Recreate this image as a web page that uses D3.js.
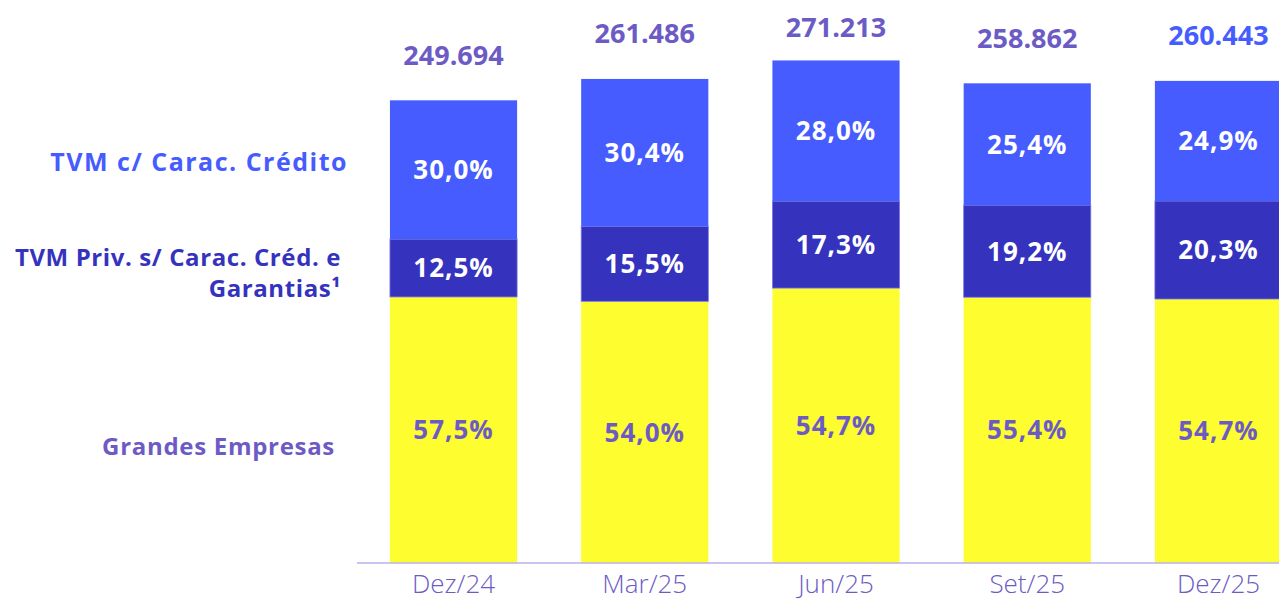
<!DOCTYPE html>
<html>
<head>
<meta charset="utf-8">
<script src="https://cdn.jsdelivr.net/npm/d3@7"></script>
<style>
  body { margin: 0; background: #fff; overflow: hidden; }
  text { font-family: "Open Sans", sans-serif; }
</style>
</head>
<body>
<div id="chart"></div>
<script>
const periods = ['Dez/24', 'Mar/25', 'Jun/25', 'Set/25', 'Dez/25'];
const totals = [249.694, 261.486, 271.213, 258.862, 260.443];
const grandes = [57.5, 54.0, 54.7, 55.4, 54.7];
const tvmPriv = [12.5, 15.5, 17.3, 19.2, 20.3];
const tvmCred = [30.0, 30.4, 28.0, 25.4, 24.9];
const seriesNames = ['Grandes Empresas', 'TVM Priv. s/ Carac. Créd. e Garantias¹', 'TVM c/ Carac. Crédito'];

const width = 1279, height = 601;
const colors = ['#FDFD2F', '#3533BE', '#465CFF'];
const purple = '#6D5BC5';

const svg = d3.select('#chart').append('svg')
    .attr('width', width)
    .attr('height', height);

const x = d3.scaleBand()
    .domain(periods)
    .range([358, 1314])
    .paddingInner(0.335)
    .paddingOuter(0.167);

const y = d3.scaleLinear()
    .domain([0, 300])
    .range([563, 563 - 300 * 1.853]);

// stacked segments in absolute units (total * share)
const shares = [grandes, tvmPriv, tvmCred];
const rows = periods.map((p, i) => {
    const r = { period: p, total: totals[i] };
    seriesNames.forEach((s, k) => { r[s] = totals[i] * shares[k][i] / 100; });
    return r;
});
const stacked = d3.stack().keys(seriesNames)(rows);

const layer = svg.append('g')
    .selectAll('g')
    .data(stacked)
    .enter().append('g')
    .attr('fill', (d, k) => colors[k]);

layer.selectAll('rect')
    .data(d => d.map(v => ({ v, key: d.key })))
    .enter().append('rect')
    .attr('x', d => x(d.v.data.period))
    .attr('y', d => y(d.v[1]))
    .attr('width', x.bandwidth())
    .attr('height', d => y(d.v[0]) - y(d.v[1]))
    .attr('stroke', d => d.key === seriesNames[1] ? '#7f7de0' : 'none')
    .attr('stroke-width', 0.8);

// percent labels
stacked.forEach((s, k) => {
    svg.append('g')
        .selectAll('text')
        .data(s)
        .enter().append('text')
        .attr('x', d => x(d.data.period) + x.bandwidth() / 2)
        .attr('y', d => (y(d[0]) + y(d[1])) / 2)
        .attr('dy', '0.36em')
        .attr('text-anchor', 'middle')
        .attr('font-size', 26)
        .attr('font-weight', 'bold')
        .attr('letter-spacing', 1)
        .attr('fill', k === 0 ? purple : '#FFFFFF')
        .text((d, i) => d3.format('.1f')(shares[k][i]).replace('.', ',') + '%');
});

// totals
svg.append('g')
    .selectAll('text')
    .data(rows)
    .enter().append('text')
    .attr('x', d => x(d.period) + x.bandwidth() / 2)
    .attr('y', d => Math.max(27, y(d.total) - 45))
    .attr('dy', '0.36em')
    .attr('text-anchor', 'middle')
    .attr('font-size', 27)
    .attr('font-weight', 'bold')
    .attr('fill', (d, i) => i === rows.length - 1 ? '#465CFF' : purple)
    .text(d => d3.format('.3f')(d.total));

// axis
const axis = svg.append('g')
    .attr('transform', 'translate(0,563)')
    .call(d3.axisBottom(x).tickSize(0).tickPadding(12));
axis.select('.domain').attr('stroke', '#B8B0EE').attr('stroke-width', 1.5)
    .attr('d', 'M357,0H1314');
axis.selectAll('text')
    .attr('font-size', 26)
    .attr('fill', purple)
    .style('font-family', '"Open Sans", sans-serif')
    .style('font-weight', 300);

// series labels on the left
const legend = [
    { lines: ['TVM c/ Carac. Crédito'], x: 348, y: 162, color: '#465CFF', size: 25, ls: 1.5 },
    { lines: ['TVM Priv. s/ Carac. Créd. e', 'Garantias¹'], x: 341, y: 257, color: '#3533BE', size: 24, ls: 0.6 },
    { lines: ['Grandes Empresas'], x: 335, y: 446, color: purple, size: 24, ls: 0.7 }
];
legend.forEach(l => {
    const t = svg.append('text')
        .attr('text-anchor', 'end')
        .attr('font-size', l.size)
        .attr('font-weight', 'bold')
        .attr('letter-spacing', l.ls)
        .attr('fill', l.color);
    l.lines.forEach((line, j) => {
        t.append('tspan')
            .attr('x', l.x)
            .attr('y', l.y + j * 31)
            .attr('dy', '0.36em')
            .text(line);
    });
});
</script>
</body>
</html>
